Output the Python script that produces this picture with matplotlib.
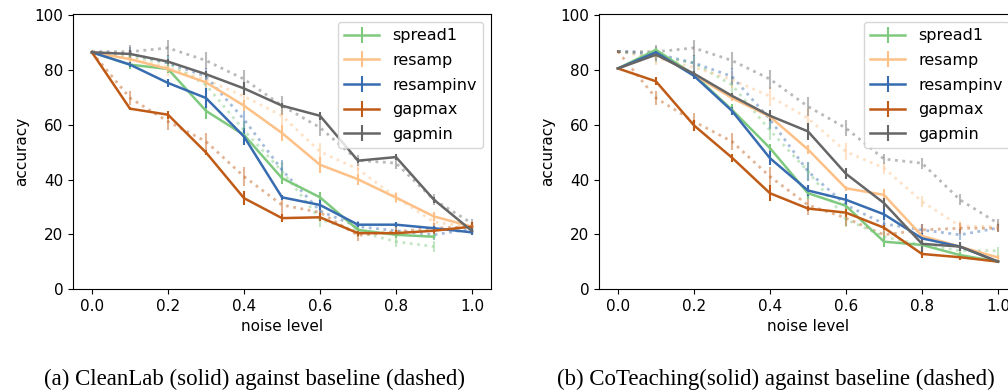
import matplotlib
matplotlib.use("Agg")
import matplotlib.pyplot as plt

noise = [0.0, 0.1, 0.2, 0.3, 0.4, 0.5, 0.6, 0.7, 0.8, 0.9, 1.0]
methods = ["spread1", "resamp", "resampinv", "gapmax", "gapmin"]
colors = ["#7fc97f", "#fdc086", "#386cb0", "#bf5b17", "#666666"]

# (a) CleanLab, solid
clean = {
    "spread1":   [86.5, 82.0, 80.4, 65.1, 56.3, 40.5, 33.5, 21.6, 19.8, 19.1],
    "resamp":    [86.5, 84.0, 80.4, 75.5, 67.0, 57.0, 45.4, 40.1, 33.4, 26.5, 22.8],
    "resampinv": [86.5, 82.0, 75.3, 69.8, 55.7, 33.5, 30.7, 23.5, 23.5, 22.2, 20.7],
    "gapmax":    [86.5, 65.9, 63.7, 49.9, 33.2, 25.9, 26.2, 20.4, 20.4, 21.3, 22.8],
    "gapmin":    [86.5, 85.9, 83.1, 78.5, 73.3, 67.0, 63.3, 46.9, 48.2, 32.6, 21.2],
}
clean_err = {
    "spread1":   [0.5, 1.5, 1.5, 3.0, 2.0, 2.0, 2.0, 1.5, 1.0, 1.0],
    "resamp":    [0.5, 1.0, 1.0, 1.0, 2.0, 3.0, 3.0, 2.0, 1.5, 1.5, 1.0],
    "resampinv": [0.5, 1.0, 1.5, 3.5, 3.0, 1.0, 2.0, 1.0, 1.0, 1.0, 1.0],
    "gapmax":    [0.5, 0.5, 1.5, 1.0, 2.5, 1.5, 1.5, 1.0, 1.0, 1.0, 1.5],
    "gapmin":    [0.5, 1.5, 1.0, 1.0, 2.5, 1.0, 1.5, 1.0, 1.0, 1.0, 1.0],
}

# (b) CoTeaching, solid
cot = {
    "spread1":   [80.6, 87.4, 78.3, 65.5, 51.5, 35.0, 30.4, 17.3, 16.1, 12.4, 10.0],
    "resamp":    [80.6, 86.0, 78.3, 69.8, 63.0, 51.0, 36.8, 34.4, 19.4, 15.5, 11.5],
    "resampinv": [80.6, 86.5, 77.9, 65.1, 47.8, 36.0, 32.6, 27.3, 18.5, 15.5, 10.0],
    "gapmax":    [80.6, 75.9, 59.8, 48.0, 35.0, 29.4, 27.9, 22.4, 12.8, 11.6, 10.0],
    "gapmin":    [80.6, 85.6, 78.7, 70.6, 63.3, 57.6, 42.1, 31.4, 16.5, 15.5, 10.0],
}
cot_err = {
    "spread1":   [0.5, 0.5, 1.0, 2.0, 1.5, 2.0, 1.5, 2.0, 1.0, 1.0, 0.5],
    "resamp":    [0.5, 0.5, 1.0, 1.0, 1.5, 1.5, 1.0, 2.0, 1.0, 1.0, 1.0],
    "resampinv": [0.5, 0.5, 1.0, 1.5, 2.5, 2.0, 2.0, 2.0, 2.0, 1.0, 0.5],
    "gapmax":    [0.5, 1.5, 2.0, 1.5, 3.0, 1.0, 1.5, 1.0, 1.5, 1.0, 0.5],
    "gapmin":    [0.5, 0.5, 1.0, 1.0, 2.0, 3.0, 2.0, 2.0, 3.0, 1.5, 0.5],
}

# baselines, dotted
base_a = {
    "spread1":   [86.5, 85.0, 82.6, 74.6, 58.0, 43.0, 25.5, 21.0, 17.3, 15.5],
    "resamp":    [86.5, 84.5, 81.0, 76.5, 70.4, 63.3, 50.2, 43.8, 33.5, 24.5, 22.5],
    "resampinv": [86.5, 86.0, 82.6, 77.7, 62.0, 43.5, 28.5, 22.8, 21.3, 19.8, 22.0],
    "gapmax":    [86.5, 69.8, 61.2, 53.9, 41.1, 30.7, 28.0, 19.6, 21.0, 22.2, 22.8],
    "gapmin":    [86.8, 86.7, 88.1, 83.5, 76.7, 67.0, 59.0, 47.0, 46.0, 32.6, 24.0],
}
base_b = {
    "spread1":   [86.8, 85.0, 82.6, 74.6, 58.0, 43.0, 25.5, 19.1, 16.1, 14.0, 14.0],
    "resamp":    [86.8, 84.5, 81.0, 76.5, 70.4, 62.4, 50.2, 44.2, 32.0, 23.0, 22.8],
    "resampinv": [86.8, 86.0, 82.6, 77.7, 62.0, 43.0, 30.7, 23.8, 21.6, 19.8, 22.3],
    "gapmax":    [86.8, 69.8, 61.2, 53.9, 41.1, 30.7, 25.9, 19.8, 21.6, 22.2, 22.2],
    "gapmin":    [86.8, 86.7, 88.1, 83.5, 76.7, 66.7, 58.8, 47.5, 46.0, 32.6, 24.0],
}
base_err = [0.5, 2.5, 3.0, 3.0, 3.5, 3.5, 3.0, 2.0, 2.0, 2.0, 1.5]

captions = ["(a) CleanLab (solid) against baseline (dashed)",
            "(b) CoTeaching(solid) against baseline (dashed)"]

plt.rcParams["font.size"] = 11

fig = plt.figure(figsize=(10.08, 3.91), dpi=100)
ax1 = fig.add_axes([0.0724, 0.2609, 0.4147, 0.7033])
ax2 = fig.add_axes([0.5942, 0.2609, 0.4147, 0.7033])


def draw(ax, solid, solid_err, base):
    for m, c in zip(methods, colors):
        b = base[m]
        ax.errorbar(noise[:len(b)], b, yerr=base_err[:len(b)], color=c,
                    ls=":", lw=2, elinewidth=1.5, alpha=0.45)
    for m, c in zip(methods, colors):
        s = solid[m]
        ax.errorbar(noise[:len(s)], s, yerr=solid_err[m], color=c,
                    lw=1.8, elinewidth=1.5, label=m)
    ax.set_ylim(0, 100.5)
    ax.set_yticks([0, 20, 40, 60, 80, 100])
    ax.set_xticks([0.0, 0.2, 0.4, 0.6, 0.8, 1.0])
    ax.set_xlabel("noise level")
    ax.set_ylabel("accuracy")
    ax.tick_params(labelsize=11)
    ax.legend(loc="upper right", fontsize=11.5, handlelength=2.2,
              labelspacing=0.6)


draw(ax1, clean, clean_err, base_a)
draw(ax2, cot, cot_err, base_b)

fig.text(0.252, 0.03, captions[0], ha="center", va="center",
         family="Liberation Serif", fontsize=16.5)
fig.text(0.770, 0.03, captions[1], ha="center", va="center",
         family="Liberation Serif", fontsize=16.5)

fig.savefig("out.png", dpi=100)
